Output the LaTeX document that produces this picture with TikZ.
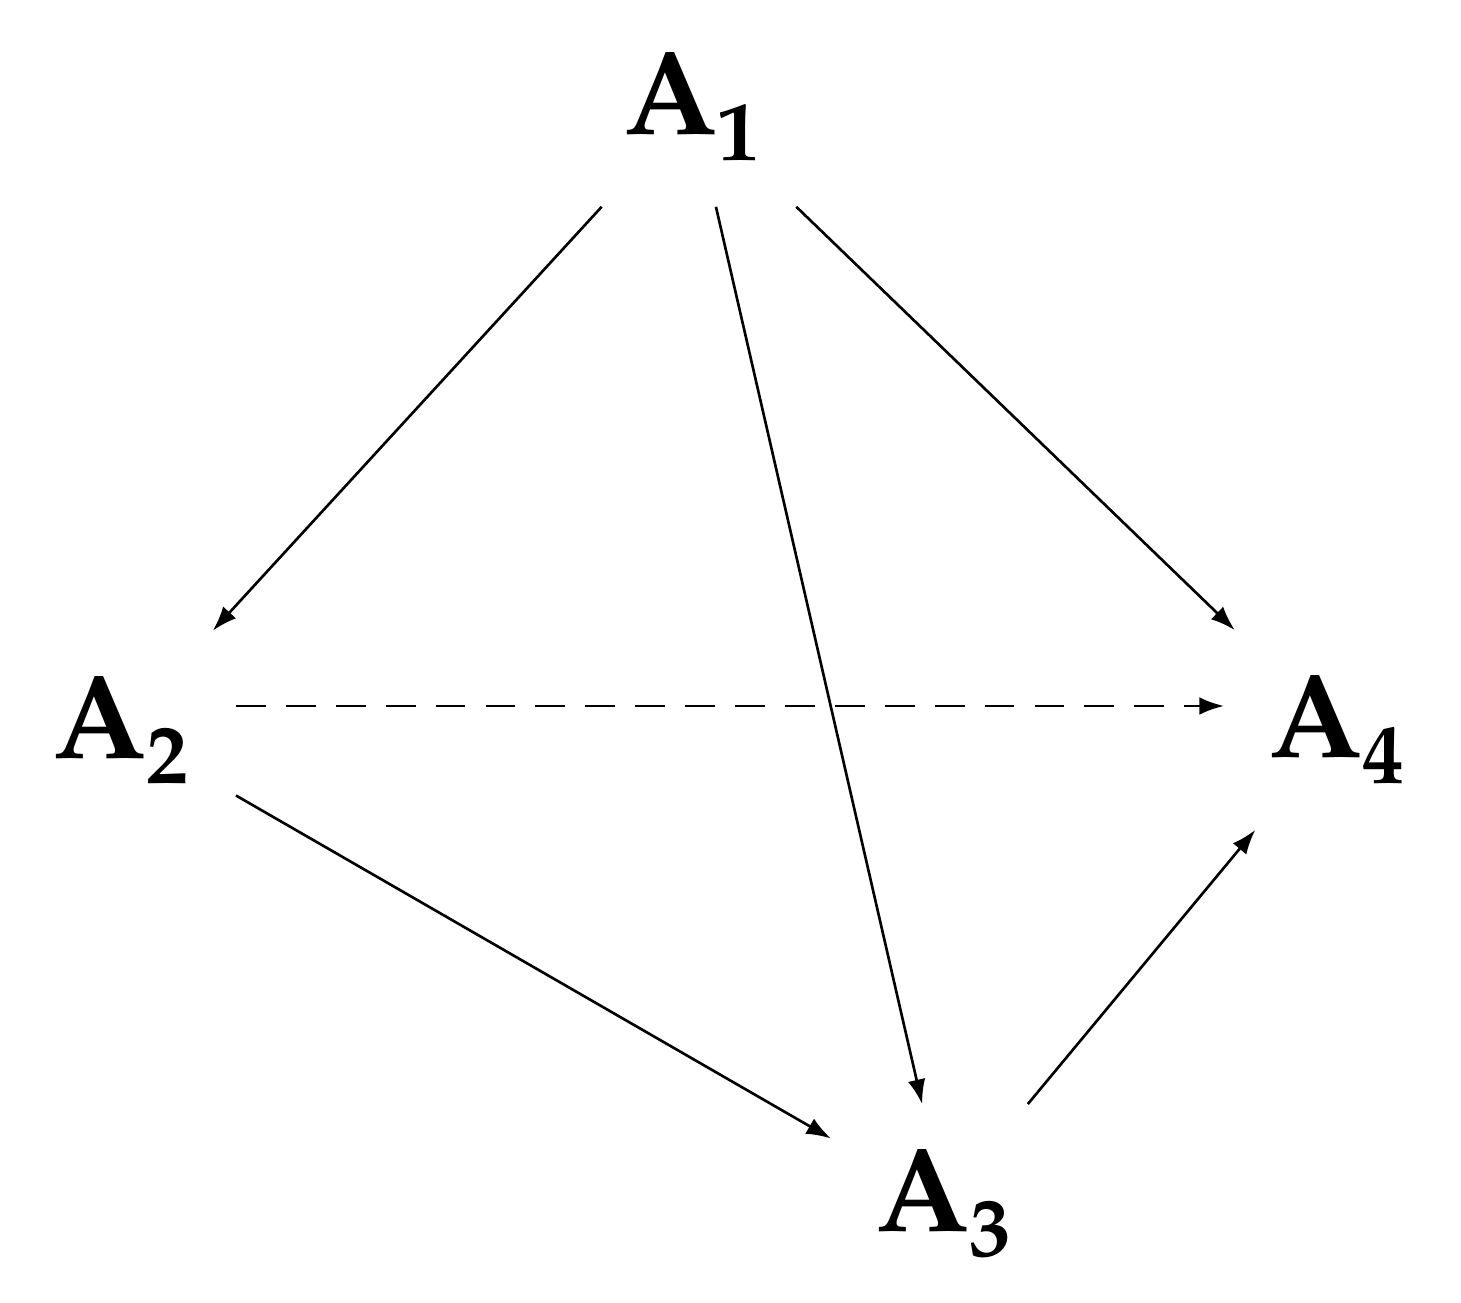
\documentclass[tikz,border=0pt]{standalone}
\usepackage{fontspec}
\setmainfont{TeX Gyre Pagella}[Scale=1]
\usetikzlibrary{arrows.meta}
\begin{document}
\begin{tikzpicture}[
  lbl/.style={font=\fontsize{34}{40}\selectfont\bfseries, inner sep=0.45cm},
  arr/.style={line width=0.75pt, -{Latex[length=7pt,width=5pt]}}]
\useasboundingbox (0,0) rectangle (14.61,13.02);
\node[lbl] (A1) at (6.93,11.95) {A$_{\mathbf 1}$};
\node[lbl] (A2) at (1.22,5.72) {A$_{\mathbf 2}$};
\node[lbl] (A4) at (13.38,5.72) {A$_{\mathbf 4}$};
\node[lbl] (A3) at (9.45,0.98) {A$_{\mathbf 3}$};
\draw[arr] (A1) -- (A2);
\draw[arr] (A1) -- (A3);
\draw[arr] (A1) -- (A4);
\draw[arr, dash pattern=on 8.5pt off 5.7pt] (A2.east |- 0,5.96) -- (A4.west |- 0,5.96);
\draw[arr] (A2) -- (A3);
\draw[arr] (A3) -- (A4);
\end{tikzpicture}
\end{document}
